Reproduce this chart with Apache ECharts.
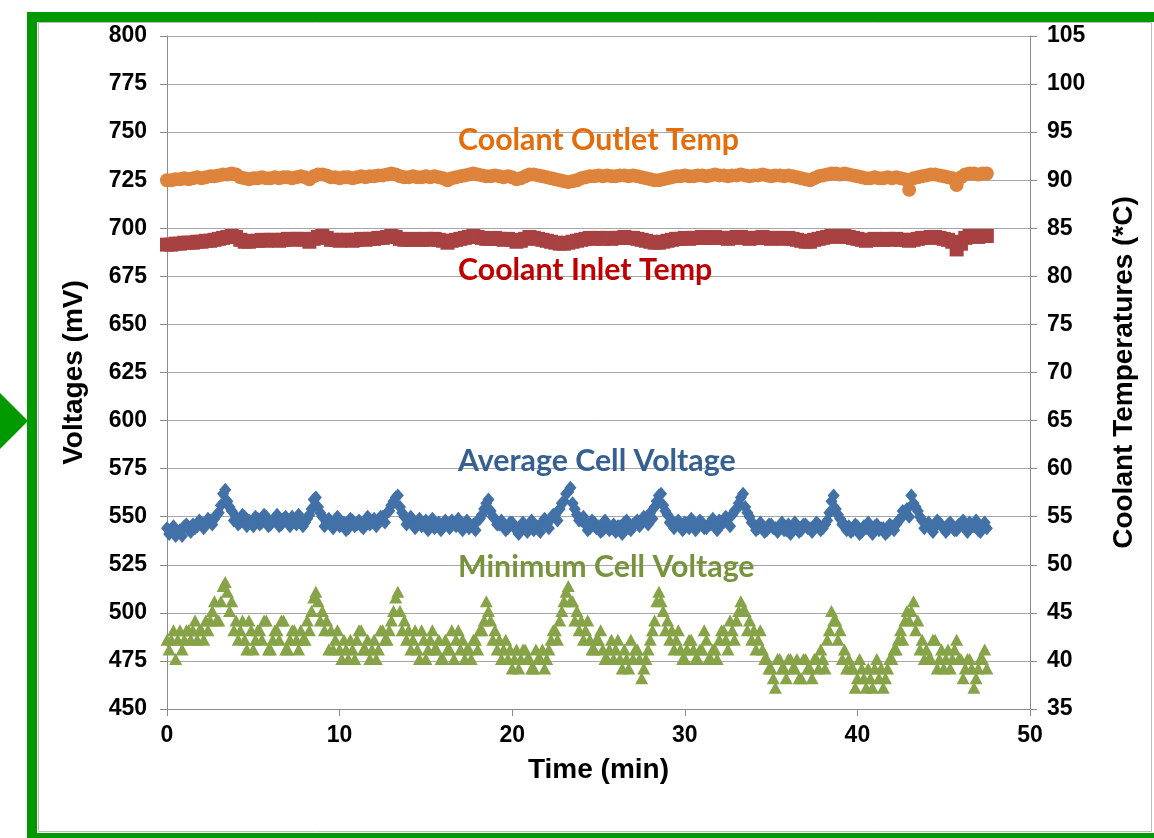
<!DOCTYPE html>
<html><head><meta charset="utf-8">
<script src="https://cdn.jsdelivr.net/npm/echarts@6/dist/echarts.min.js"></script>
<style>html,body{margin:0;padding:0;background:#fff;overflow:hidden}#c{width:1154px;height:838px;}</style>
</head><body><div id="c"></div>
<script>
// logged samples: main readings at i*0.25 min, intermediate readings at 0.125 + i*0.25 min
const SAMPLE_STEP_MIN = 0.25;
const MID_OFFSET_MIN = 0.125;

// Average cell voltage (mV), left axis
const avgCellVoltage = [
544,543,540,543,545,544,546,545,547,546,548,549,552,
562,558,553,550,
547,550,548,545,549,547,550,546,548,545,549,547,550,546,548,547,551,
559,555,550,547,
546,548,545,547,544,548,546,545,547,546,549,548,550,552,556,
560,555,550,548,
546,547,545,548,546,544,547,545,546,548,545,547,546,544,546,548,551,
557,553,549,546,
546,544,547,543,545,544,546,543,545,547,546,549,551,554,
558,563,557,551,
548,546,544,547,545,543,546,544,542,545,547,544,546,548,547,549,552,555,
561,556,551,548,
546,545,547,544,546,545,547,544,546,545,548,547,549,551,554,
560,555,550,546,
544,545,543,546,544,545,543,546,544,545,543,546,544,545,546,544,548,
558,554,549,546,
545,543,545,542,544,543,545,543,544,542,545,546,549,552,
550,557,553,548,
546,544,545,547,544,546,545,543,546,544,547,545,543,545,544
];
const avgCellVoltageMid = [
541,545,542,540,546,542,544,548,544,549,546,551,556,
564,555,548,546,
551,545,547,550,546,551,545,548,551,546,550,545,548,551,545,549,554,
560,552,545,549,
544,550,547,543,549,545,548,544,550,547,545,550,547,553,558,
561,552,546,550,
544,549,547,543,549,546,543,548,544,547,549,543,548,545,543,549,554,
559,550,546,548,
543,547,545,541,547,542,548,545,542,549,544,551,548,557,
562,565,554,548,
550,543,548,544,542,548,543,546,545,541,548,543,547,545,550,546,549,558,
562,553,547,544,
548,543,546,549,543,548,544,546,549,543,546,550,545,553,557,
562,552,547,543,
547,542,546,544,542,547,543,541,547,542,546,544,542,547,543,546,552,
561,551,546,543,
542,546,541,545,547,541,546,544,541,546,543,548,553,554,
561,555,550,544,
547,542,548,545,542,547,543,546,548,542,545,548,542,547
];

// Minimum cell voltage (mV), left axis
const minCellVoltage = [
486,486,476,491,486,491,491,486,491,496,496,506,496,
514,511,506,496,
491,486,496,481,491,486,496,481,491,486,496,481,491,486,491,486,491,
508,506,501,496,
491,486,481,486,476,481,486,491,481,476,486,481,491,486,496,
508,501,496,491,
486,481,491,476,486,481,486,476,481,491,486,481,476,481,486,481,491,
506,496,491,486,
481,476,471,481,476,481,476,471,476,481,476,486,491,496,
506,514,506,501,
496,491,486,481,486,481,476,486,481,476,481,471,476,481,466,476,486,496,
511,501,496,491,
486,481,476,486,481,476,481,486,476,481,486,491,481,491,496,
506,501,496,491,
486,481,476,471,461,476,471,476,471,476,466,476,471,476,471,476,486,
501,496,491,481,
476,471,466,471,461,466,471,466,461,471,476,481,491,496,
496,506,496,486,
481,476,486,476,471,481,476,486,476,471,476,461,471,476,471
];
const minCellVoltageMid = [
481,491,486,481,491,486,496,491,486,491,501,496,506,
516,501,491,486,
496,481,491,486,491,496,481,486,491,496,481,486,491,481,486,496,501,
511,496,491,481,
481,491,476,481,486,476,491,481,486,481,476,491,486,491,501,
511,491,486,481,
491,476,486,481,491,481,476,486,481,476,491,486,481,476,486,491,496,
501,486,481,476,
486,481,476,471,481,476,471,481,476,471,481,491,486,501,
511,506,496,491,
486,496,481,486,491,476,481,476,486,471,476,486,481,476,471,481,491,506,
506,491,486,481,
491,476,481,486,476,481,491,476,481,476,491,486,496,486,501,
501,491,486,481,
491,476,471,466,476,471,466,476,471,466,476,471,466,476,481,471,491,
496,486,476,471,
471,461,476,466,471,461,476,471,466,476,481,486,486,501,
501,491,481,476,
476,486,471,481,476,471,481,476,466,476,471,466,476,481
];

// Coolant outlet temperature (°C), right axis
const outletTemp = [
90.0,90.0,90.1,90.1,90.2,90.1,90.2,90.3,90.2,90.3,90.4,90.4,90.5,
90.6,90.6,90.7,90.6,90.3,90.2,90.1,90.2,
90.2,90.3,90.2,90.2,90.3,90.2,90.3,90.3,90.2,90.3,90.4,90.3,
90.1,90.4,90.6,90.6,90.5,90.3,
90.3,90.2,90.3,90.3,90.2,90.3,90.4,90.3,90.4,90.4,90.5,90.5,
90.6,90.7,90.6,90.4,90.3,90.3,
90.4,90.3,90.3,90.4,90.3,90.4,90.3,90.2,90.0,90.2,
90.3,90.4,90.5,90.6,90.7,90.6,90.5,90.4,
90.4,90.5,90.4,90.3,90.4,90.3,90.1,90.2,90.4,90.6,90.6,
90.5,90.4,90.3,90.2,90.1,90.0,89.9,89.8,89.9,90.0,90.2,
90.3,90.4,90.4,90.5,90.4,90.5,90.4,90.4,90.5,90.5,90.4,90.5,90.4,90.3,90.2,90.1,
90.0,90.0,90.1,90.2,90.3,90.4,
90.4,90.5,90.4,90.4,90.5,90.5,90.4,90.5,90.6,90.5,90.5,90.4,90.5,90.5,90.6,
90.5,90.4,90.5,90.5,90.6,90.5,90.4,90.5,90.5,90.4,90.5,90.4,90.3,90.2,90.1,
90.0,90.2,90.4,90.5,90.6,90.7,90.7,90.6,90.7,90.6,90.5,90.4,90.3,90.2,
90.2,90.3,90.2,90.2,90.3,90.2,90.3,90.2,90.1,89.0,90.2,
90.3,90.4,90.5,90.6,90.6,90.5,90.4,90.3,90.2,89.5,90.3,90.6,90.7,90.7,90.6,90.7,90.7
];

// Coolant inlet temperature (°C), right axis
const inletTemp = [
83.3,83.3,83.4,83.4,83.5,83.5,83.5,83.6,83.6,83.7,83.7,83.8,83.9,
84.0,84.1,84.2,84.1,83.8,83.6,83.6,83.7,
83.7,83.8,83.7,83.8,83.8,83.7,83.8,83.9,83.8,83.9,83.9,83.8,
83.6,83.9,84.1,84.2,84.0,83.8,
83.8,83.7,83.8,83.8,83.7,83.8,83.9,83.8,83.9,83.9,84.0,84.0,
84.1,84.2,84.1,83.9,83.8,83.8,
83.9,83.8,83.8,83.9,83.8,83.9,83.8,83.7,83.5,83.7,
83.8,83.9,84.0,84.1,84.2,84.1,84.0,83.9,
83.9,84.0,83.9,83.8,83.9,83.8,83.6,83.7,83.9,84.1,84.0,
83.9,83.8,83.7,83.6,83.5,83.4,83.4,83.5,83.6,83.7,83.8,
83.9,84.0,83.9,84.0,83.9,84.0,83.9,84.0,84.0,84.1,84.0,84.0,83.9,83.8,83.7,83.6,
83.5,83.5,83.6,83.7,83.8,83.9,
83.9,84.0,83.9,84.0,84.0,84.1,84.0,84.0,84.1,84.0,84.0,83.9,84.0,84.1,84.1,
84.0,83.9,84.0,84.0,84.1,84.0,83.9,84.0,84.0,83.9,84.0,83.9,83.8,83.7,83.6,
83.6,83.8,83.9,84.0,84.1,84.2,84.2,84.1,84.2,84.1,84.0,83.9,83.8,83.7,
83.8,83.9,83.8,83.8,83.9,83.8,83.9,83.8,83.8,83.7,83.8,
83.9,84.0,84.0,84.1,84.1,84.0,83.9,83.8,83.6,82.8,83.4,84.0,84.2,84.2,84.1,84.2,84.2
];

// in-plot series captions, anchored in data space (left edge of text)
const captions = [
  {text:'Coolant Outlet Temp',  t:16.86, mv:746, color:'#E46C0A'},
  {text:'Coolant Inlet Temp',   t:16.86, mv:678.3, color:'#C00000'},
  {text:'Average Cell Voltage', t:16.86, mv:579, color:'#366092'},
  {text:'Minimum Cell Voltage', t:16.86, mv:523.8, color:'#77933C'}
];

const toPairs = (arr, off) => arr.map((v,i)=>[off + i*SAMPLE_STEP_MIN, v]);
const merged = (a, b) => toPairs(a, 0).concat(toPairs(b, MID_OFFSET_MIN)).sort((p,q)=>p[0]-q[0]);

const chart = echarts.init(document.getElementById('c'), null, {renderer:'canvas'});
const axisFont = {fontFamily:'Liberation Sans, Arial, sans-serif', fontWeight:'bold', color:'#000'};
const gridColor = '#A6A6A6';

chart.setOption({
  animation:false,
  backgroundColor:'#fff',
  grid:{left:167, right:124, top:36, bottom:129, containLabel:false},
  xAxis:{
    type:'value', min:0, max:50, interval:10,
    name:'Time (min)', nameLocation:'middle', nameGap:47,
    nameTextStyle:Object.assign({fontSize:28}, axisFont),
    axisLine:{show:true, onZero:false, lineStyle:{color:'#8C8C8C', width:1}},
    axisTick:{show:true, inside:false, length:7, lineStyle:{color:'#8C8C8C'}},
    axisLabel:Object.assign({fontSize:23, margin:15}, axisFont),
    splitLine:{show:false}
  },
  yAxis:[{
    type:'value', min:450, max:800, interval:25, position:'left',
    name:'Voltages (mV)', nameLocation:'middle', nameGap:79, nameRotate:90,
    nameTextStyle:Object.assign({fontSize:28}, axisFont),
    axisLine:{show:true, lineStyle:{color:'#8C8C8C', width:1}},
    axisTick:{show:true, inside:false, length:7, lineStyle:{color:'#8C8C8C'}},
    axisLabel:Object.assign({fontSize:23, margin:20}, axisFont),
    splitLine:{show:true, lineStyle:{color:gridColor, width:1}}
  },{
    type:'value', min:35, max:105, interval:5, position:'right',
    name:'Coolant Temperatures (*C)', nameLocation:'middle', nameGap:80, nameRotate:90,
    nameTextStyle:Object.assign({fontSize:28}, axisFont),
    axisLine:{show:true, lineStyle:{color:'#8C8C8C', width:1}},
    axisTick:{show:true, inside:false, length:7, lineStyle:{color:'#8C8C8C'}},
    axisLabel:Object.assign({fontSize:23, margin:17}, axisFont),
    splitLine:{show:false}
  }],
  series:[
    {name:'Minimum Cell Voltage', type:'scatter', yAxisIndex:0, data:merged(minCellVoltage, minCellVoltageMid),
     symbol:'triangle', symbolSize:[13,12], itemStyle:{color:'#86A348', opacity:1}, silent:true},
    {name:'Average Cell Voltage', type:'scatter', yAxisIndex:0, data:merged(avgCellVoltage, avgCellVoltageMid),
     symbol:'diamond', symbolSize:[12,14], itemStyle:{color:'#4271A8', opacity:1}, silent:true},
    {name:'Coolant Inlet Temp', type:'scatter', yAxisIndex:1, data:toPairs(inletTemp, 0),
     symbol:'rect', symbolSize:14, itemStyle:{color:'#A84141', opacity:1}, silent:true},
    {name:'Coolant Outlet Temp', type:'scatter', yAxisIndex:1, data:toPairs(outletTemp, 0),
     symbol:'circle', symbolSize:14, itemStyle:{color:'#DE833B', opacity:1}, silent:true}
  ]
});

// fit caption font to measured reference width of first caption (281px)
const capFamily = 'Lato';
const cv = document.createElement('canvas').getContext('2d');
cv.font = 'bold 100px ' + capFamily;
const capSize = Math.round(100 * 281 / cv.measureText(captions[0].text).width * 10) / 10;

const graphics = [
  {type:'rect', shape:{x:32, y:17, width:1140, height:821}, style:{fill:null, stroke:'#009A00', lineWidth:10}, silent:true, z:100},
  {type:'rect', shape:{x:38.5, y:22.5, width:1113, height:809}, style:{fill:null, stroke:'#BDBDBD', lineWidth:1}, silent:true, z:100},
  {type:'polygon', shape:{points:[[0,393],[28,421],[0,449]]}, style:{fill:'#009A00'}, silent:true, z:100}
];
captions.forEach(c=>{
  const p = chart.convertToPixel({xAxisIndex:0, yAxisIndex:0}, [c.t, c.mv]);
  graphics.push({type:'text', x:p[0], y:p[1], z:50, silent:true,
    style:{text:c.text, fill:c.color, font:'bold '+capSize+'px '+capFamily, textAlign:'left', textVerticalAlign:'middle'}});
});
chart.setOption({graphic:graphics});
</script>
</body></html>
